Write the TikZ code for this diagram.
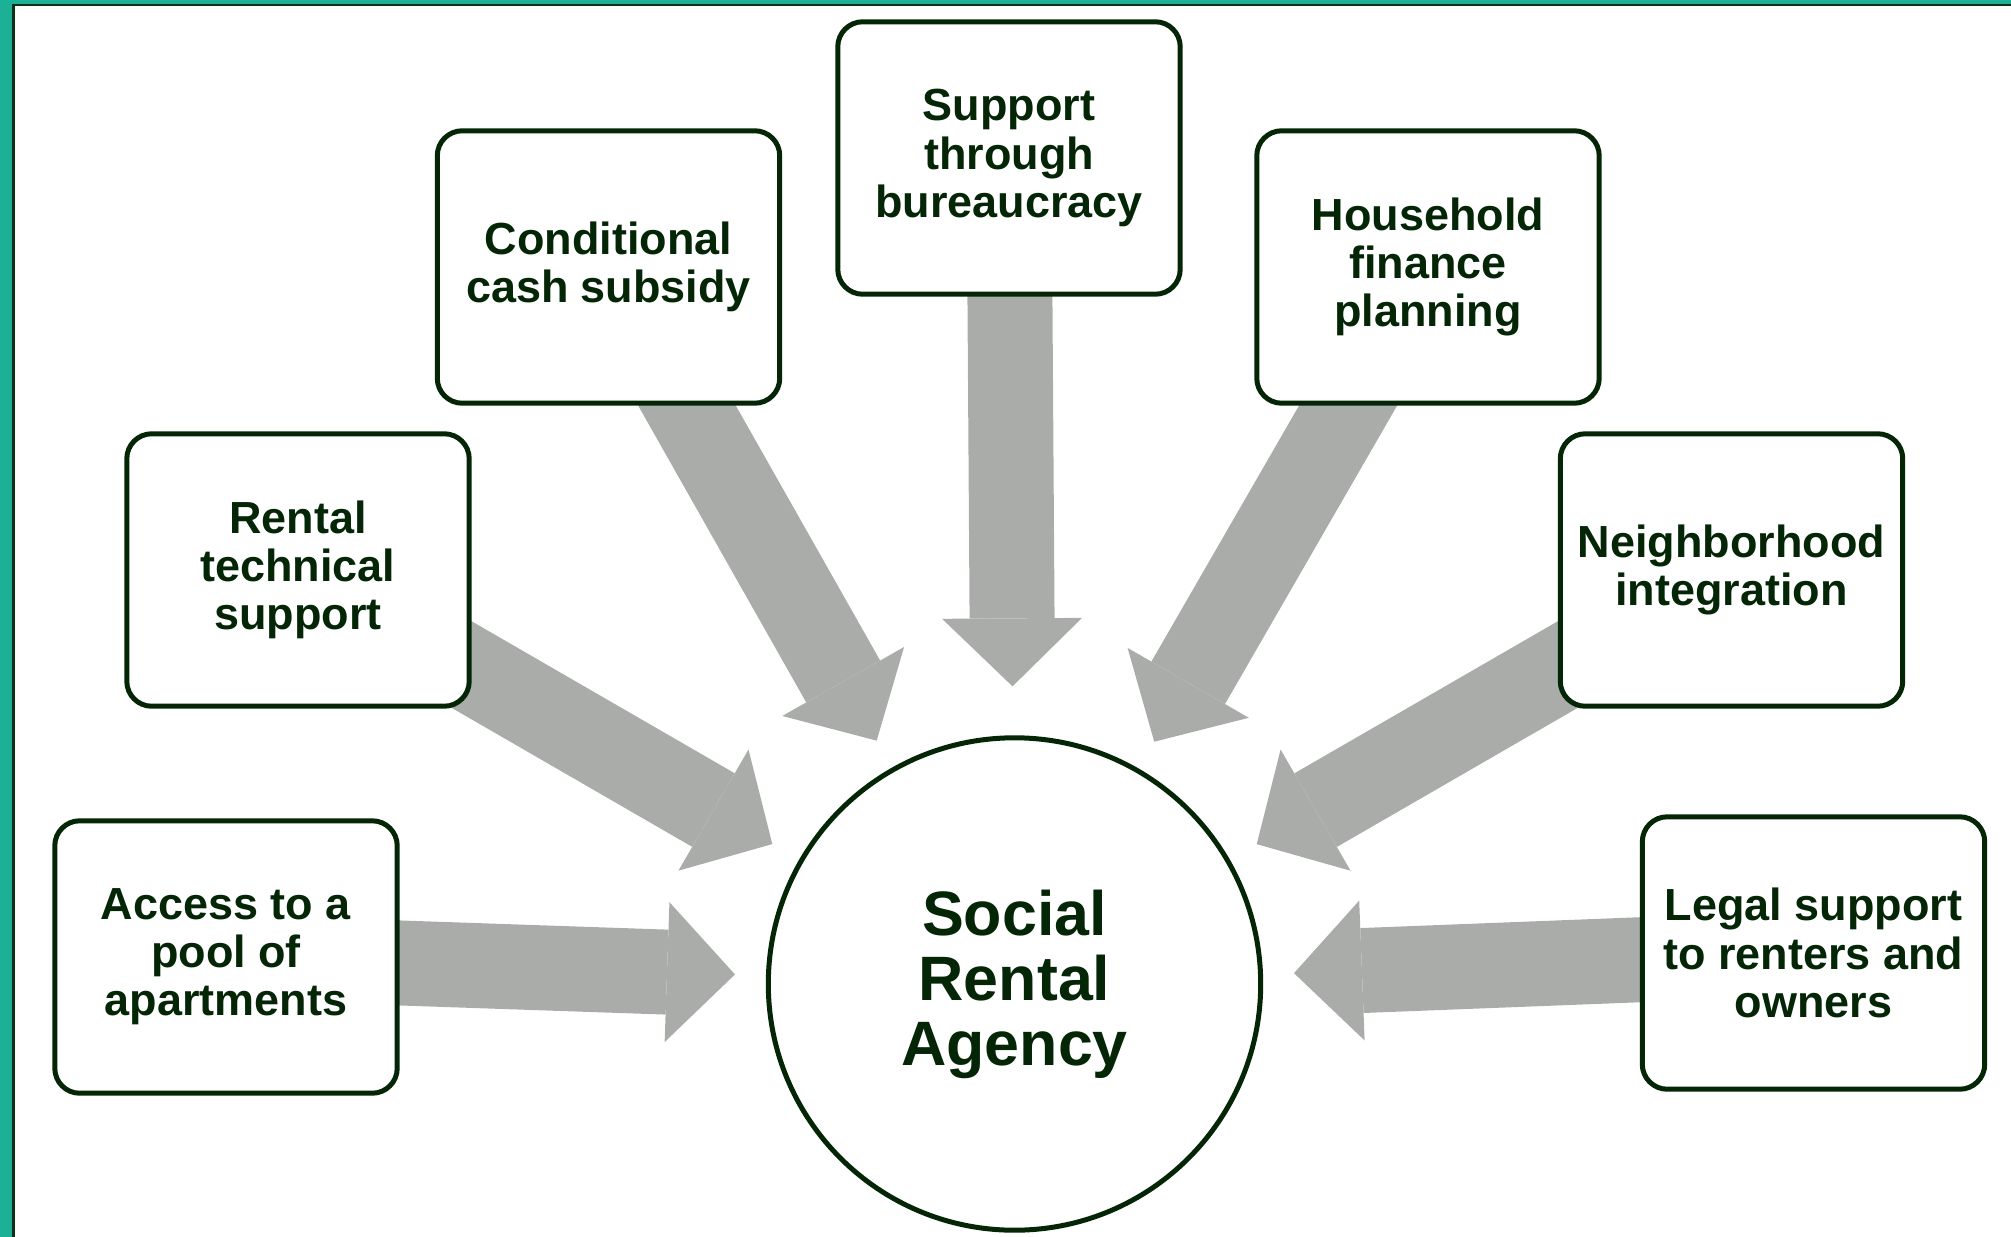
\documentclass[tikz,border=0pt]{standalone}
\usepackage{fontspec}
\setmainfont{Liberation Sans}
\usetikzlibrary{arrows.meta,backgrounds}

\definecolor{verdescuro}{RGB}{4,38,6}
\definecolor{grigiofreccia}{RGB}{170,172,170}
\definecolor{tealchiaro}{RGB}{28,176,150}
\definecolor{tealscuro}{RGB}{18,136,114}
\definecolor{bordoscuro}{RGB}{10,48,22}

\tikzset{
  riquadro/.style={draw=verdescuro, line width=0.1cm, rounded corners=0.5cm, fill=white,
    minimum width=6.85cm, minimum height=5.45cm, align=center, inner sep=2pt,
    text=verdescuro, font=\fontsize{25.6}{27.4}\selectfont\bfseries},
  agenzia/.style={circle, draw=verdescuro, line width=0.1cm, fill=white, minimum size=9.85cm,
    align=center, text=verdescuro, font=\fontsize{35.7}{37}\selectfont\bfseries},
  freccia/.style={draw=grigiofreccia, line width=1.7cm,
    -{Triangle[width=2.8cm,length=1.36cm,line width=0pt]}, shorten >=0.62cm}
}

\begin{document}
\begin{tikzpicture}[x=0.02cm, y=-0.02cm]
    \useasboundingbox (0,0) rectangle (2011,1237);

     % Cornice
    \fill[tealchiaro] (0,0) rectangle (2011,4);
    \shade[top color=tealchiaro, middle color=tealscuro, bottom color=tealchiaro] (0,0) rectangle (12,1237);
    \fill[bordoscuro] (12,4) rectangle (14.5,1237);
    \fill[bordoscuro] (12,4) rectangle (2011,6.5);

     % Riquadri dei servizi
    \node[riquadro] (accesso) at (226,957) {Access to a\\pool of\\apartments};
    \node[riquadro] (tecnico) at (298,570) {Rental\\technical\\support};
    \node[riquadro] (sussidio) at (608.5,267) {Conditional\\cash subsidy};
    \node[riquadro] (burocrazia) at (1009,158) {Support\\through\\bureaucracy};
    \node[riquadro] (finanza) at (1428,267) {Household\\finance\\planning};
    \node[riquadro] (quartiere) at (1731.5,570) {Neighborhood\\integration};
    \node[riquadro] (legale) at (1813.5,953) {Legal support\\to renters and\\owners};

     % Agenzia al centro
    \node[agenzia] (sra) at (1014.5,984) {Social\\Rental\\Agency};

     % Frecce verso il centro
    \begin{scope}[on background layer]
        \draw[freccia] (accesso.center) -- (sra);
        \draw[freccia] (tecnico.center) -- (sra);
        \draw[freccia] (sussidio.center) -- (sra);
        \draw[freccia, shorten >=0.98cm] (burocrazia.center) -- (sra);
        \draw[freccia] (finanza.center) -- (sra);
        \draw[freccia] (quartiere.center) -- (sra);
        \draw[freccia] (legale.center) -- (sra);
    \end{scope}
\end{tikzpicture}
\end{document}
